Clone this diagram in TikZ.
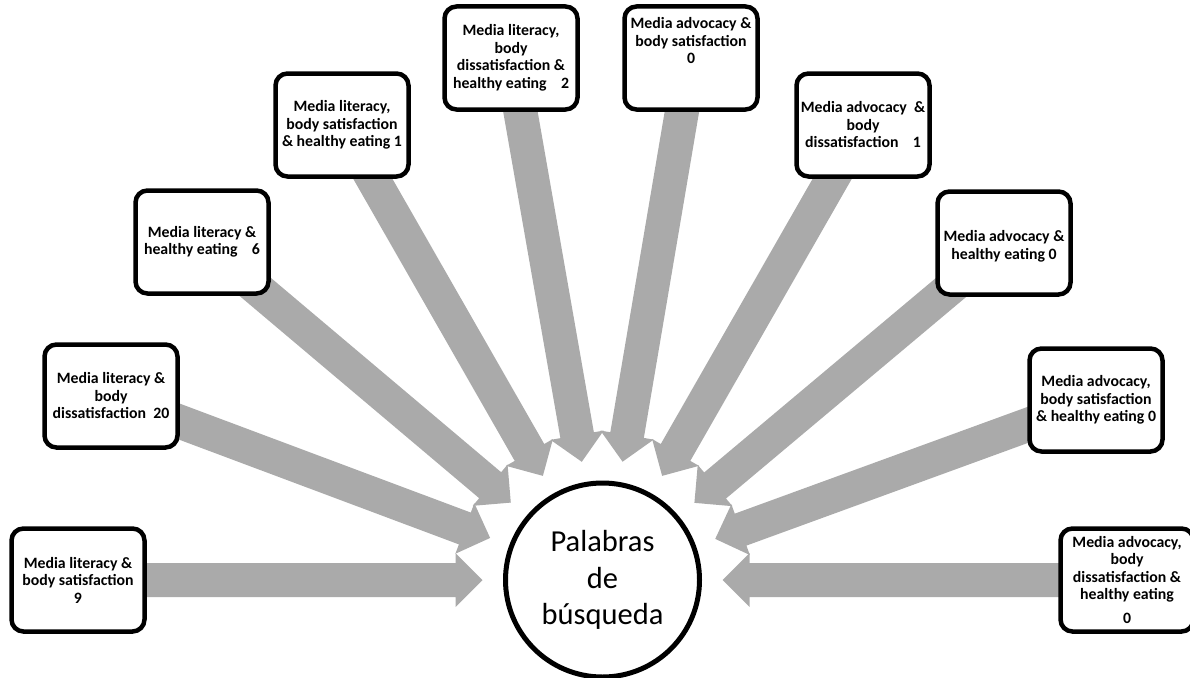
\documentclass[tikz,border=0pt]{standalone}
\usepackage{fontspec}
\setmainfont{Carlito}
\usetikzlibrary{calc,backgrounds}

\definecolor{arrowgray}{RGB}{170,170,170}

\tikzset{
  kwbox/.style={draw, line width=4.5pt, rounded corners=12pt, fill=white,
    minimum width=133pt, minimum height=103pt, inner sep=1pt, align=center,
    font=\bfseries\fontsize{15.8}{17.5}\selectfont},
  hub/.style={draw, circle, line width=5pt, fill=white, minimum size=194pt,
    align=center, font=\fontsize{30.5}{36.5}\selectfont},
  fatarrow/.style={fill=arrowgray}
}

\begin{document}
\begin{tikzpicture}[x=1pt,y=-1pt]
\useasboundingbox (0,0) rectangle (1190,677);

% search words in the middle
\node[hub] (c) at (602.5,580) {Palabras\\de\\búsqueda};

% media literacy
\node[kwbox] (b1) at (78,580) {Media literacy \&\\body satisfaction\\9};
\node[kwbox] (b2) at (111,396) {Media literacy \&\\body\\dissatisfaction\ \ 20};
\node[kwbox] (b3) at (202,242) {Media literacy \&\\healthy eating\ \ \ \ 6};
\node[kwbox] (b4) at (342,125) {Media literacy,\\body satisfaction\\\& healthy eating 1};
\node[kwbox] (b5) at (511,58) {Media literacy,\\body\\dissatisfaction \&\\healthy eating\ \ \ \ 2};

% media advocacy
\node[kwbox] (b6) at (691,58) {Media advocacy \&\\body satisfaction\\0\\[17pt]\mbox{}};
\node[kwbox] (b7) at (863,125) {Media advocacy\ \ \&\\body\\dissatisfaction\ \ \ \ 1};
\node[kwbox] (b8) at (1004,243) {\mbox{}\\Media advocacy \&\\healthy eating 0};
\node[kwbox] (b9) at (1096,400) {Media advocacy,\\body satisfaction\\\& healthy eating 0};
\node[kwbox] (b10) at (1127,580) {Media advocacy,\\body\\dissatisfaction \&\\healthy eating\\[6pt]0};

% block arrows into the circle
\begin{pgfonlayer}{background}
\foreach \i in {1,...,10}{
  \coordinate (t\i) at ($(c)!120pt!(b\i)$);
  \coordinate (h\i) at ($(t\i)!27pt!(b\i.center)$);
  \path[fatarrow] ($(b\i.center)!17pt!90:(t\i)$) -- ($(h\i)!17pt!90:(t\i)$)
    -- ($(h\i)!27pt!90:(t\i)$) -- (t\i) -- ($(h\i)!27pt!-90:(t\i)$)
    -- ($(h\i)!17pt!-90:(t\i)$) -- ($(b\i.center)!17pt!-90:(t\i)$) -- cycle;
}
\end{pgfonlayer}

\end{tikzpicture}
\end{document}
